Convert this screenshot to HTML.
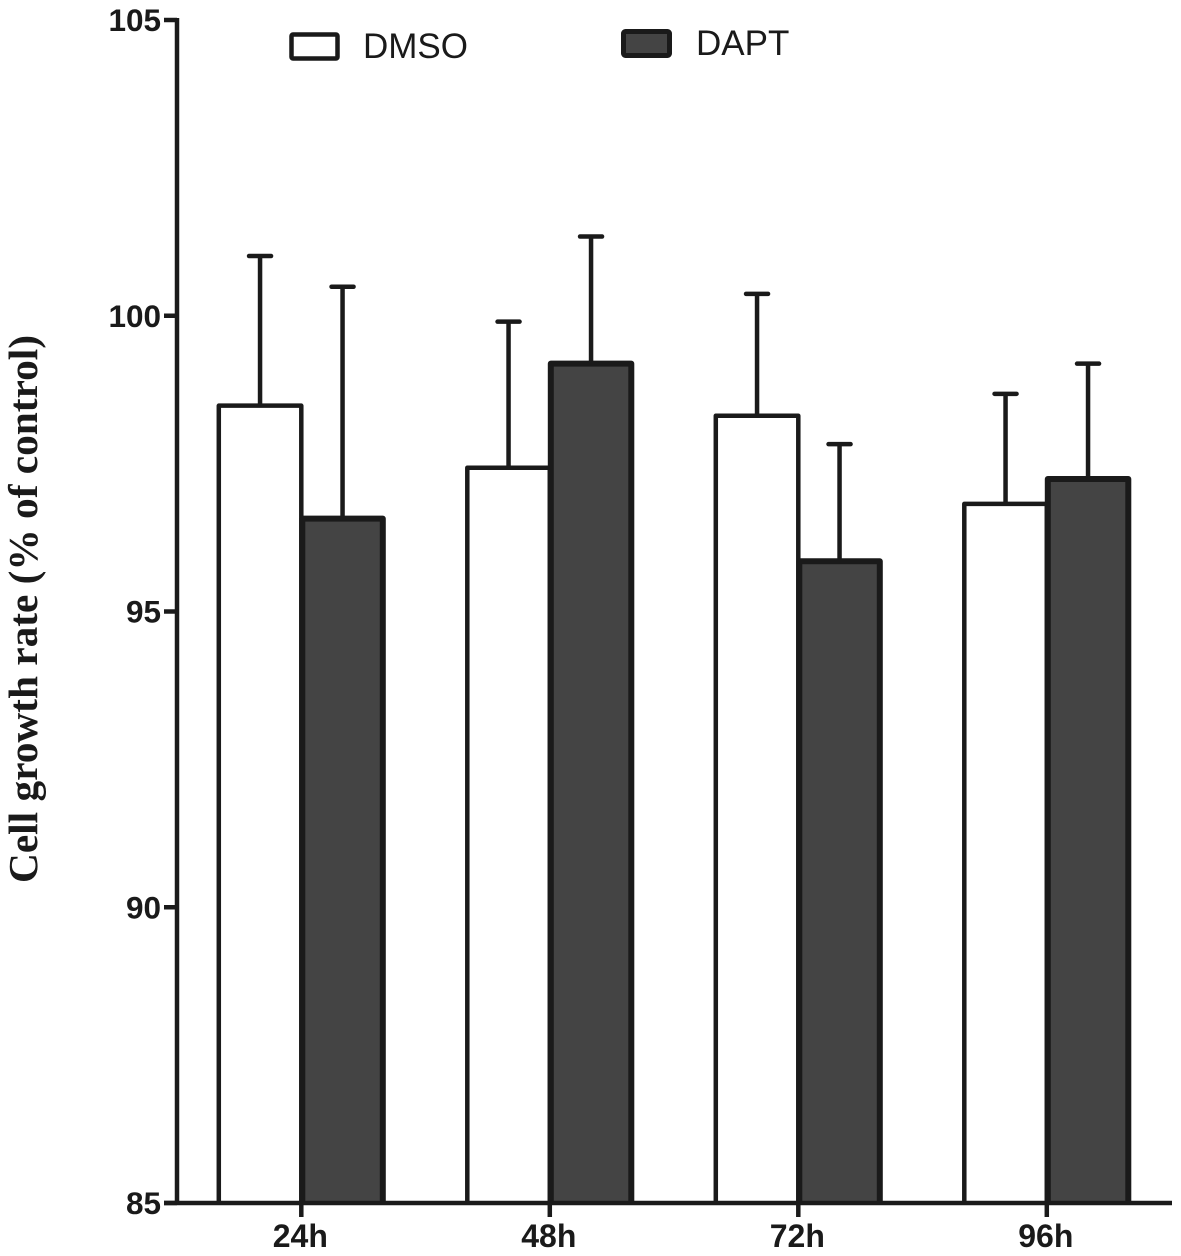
<!DOCTYPE html>
<html lang="en">
<head>
<meta charset="utf-8">
<title>Cell growth rate chart</title>
<style>
html,body{margin:0;padding:0;background:#fff;width:1181px;height:1256px;overflow:hidden}
svg{display:block}
</style>
</head>
<body>
<svg id="chart" xmlns="http://www.w3.org/2000/svg" width="1181" height="1256" viewBox="0 0 1181 1256">
<rect x="0" y="0" width="1181" height="1256" fill="#ffffff"/>
<g id="plot"></g>
<text transform="translate(37 609) rotate(-90)" text-anchor="middle" font-family="'Liberation Serif',serif" font-weight="700" font-size="41" fill="#1a1a1a" textLength="548" lengthAdjust="spacingAndGlyphs">Cell growth rate (% of control)</text>
<g>
<rect x="291.5" y="34.5" width="46" height="24" rx="1.5" fill="#ffffff" stroke="#1a1a1a" stroke-width="4.5"/>
<text x="363" y="58" font-family="'Liberation Sans',sans-serif" font-size="35" fill="#1a1a1a">DMSO</text>
</g>
<g>
<rect x="623.5" y="31.5" width="46" height="24" rx="2" fill="#444444" stroke="#1a1a1a" stroke-width="5"/>
<text x="696" y="55" font-family="'Liberation Sans',sans-serif" font-size="35" fill="#1a1a1a">DAPT</text>
</g>
</svg>
<script>
const categories = ["24h", "48h", "72h", "96h"];
const dmsoValues = [98.48, 97.43, 98.31, 96.82];
const daptValues = [96.57, 99.19, 95.85, 97.24];
const dmsoErrorTops = [101.01, 99.90, 100.37, 98.68];
const daptErrorTops = [100.49, 101.34, 97.83, 99.19];
const yTicks = [85, 90, 95, 100, 105];

const INK = "#1a1a1a";
const NS = "http://www.w3.org/2000/svg";
const plot = document.getElementById("plot");

function yScale(v) { return 1203 - (v - 85) * (1183 / 20); }
function xCenter(i) { return 301.3 + i * 248.5; }

function make(tag, attrs) {
  const el = document.createElementNS(NS, tag);
  for (const k in attrs) el.setAttribute(k, attrs[k]);
  plot.appendChild(el);
  return el;
}

function drawBar(cx, value, errTop, dark, label) {
  const barW = 82.5;
  const x0 = dark ? cx : cx - barW;
  const top = yScale(value);
  const bottom = yScale(85);
  const sw = dark ? 6 : 4.5;
  const inset = dark ? 1 : 0;
  const ex = x0 + barW / 2;
  const stem = make("line", {x1: ex, x2: ex, y1: yScale(errTop), y2: top, stroke: INK, "stroke-width": 4.5});
  
  
  const cap = make("line", {x1: ex - 11, x2: ex + 11, y1: yScale(errTop), y2: yScale(errTop), stroke: INK, "stroke-width": 4.5, "stroke-linecap": "round"});
  
  
  const bar = make("path", {
    d: "M" + (x0 + inset) + " " + bottom + "V" + top + "H" + (x0 + barW - inset) + "V" + bottom,
    fill: dark ? "#444444" : "#ffffff",
    stroke: INK,
    "stroke-width": sw,
    "stroke-linejoin": "round"
  });
  
  
}

categories.forEach(function (cat, i) {
  const cx = xCenter(i);
  drawBar(cx, dmsoValues[i], dmsoErrorTops[i], false, "dmso-" + cat);
});
categories.forEach(function (cat, i) {
  const cx = xCenter(i);
  drawBar(cx, daptValues[i], daptErrorTops[i], true, "dapt-" + cat);
});

const yAxis = make("line", {x1: 177, x2: 177, y1: yScale(105) - 2, y2: yScale(85) + 2, stroke: INK, "stroke-width": 4.5});


const xAxis = make("line", {x1: 164, x2: 1172, y1: yScale(85), y2: yScale(85), stroke: INK, "stroke-width": 4.5});



yTicks.forEach(function (t) {
  const y = yScale(t);
  const tick = make("line", {x1: 164, x2: 177, y1: y, y2: y, stroke: INK, "stroke-width": 4.5});
  
  
  const label = make("text", {x: 161, y: y + 11, "text-anchor": "end", "font-family": "'Liberation Sans',sans-serif", "font-weight": 700, "font-size": 31.5, fill: INK});
  
  
  label.textContent = t;
});

categories.forEach(function (cat, i) {
  const cx = xCenter(i);
  const tick = make("line", {x1: cx, x2: cx, y1: yScale(85), y2: yScale(85) + 14, stroke: INK, "stroke-width": 4.5});
  
  
  const label = make("text", {x: cx - 1, y: 1247, "text-anchor": "middle", "font-family": "'Liberation Sans',sans-serif", "font-weight": 700, "font-size": 32, fill: INK});
  
  
  label.textContent = cat;
});
</script>
</body>
</html>
